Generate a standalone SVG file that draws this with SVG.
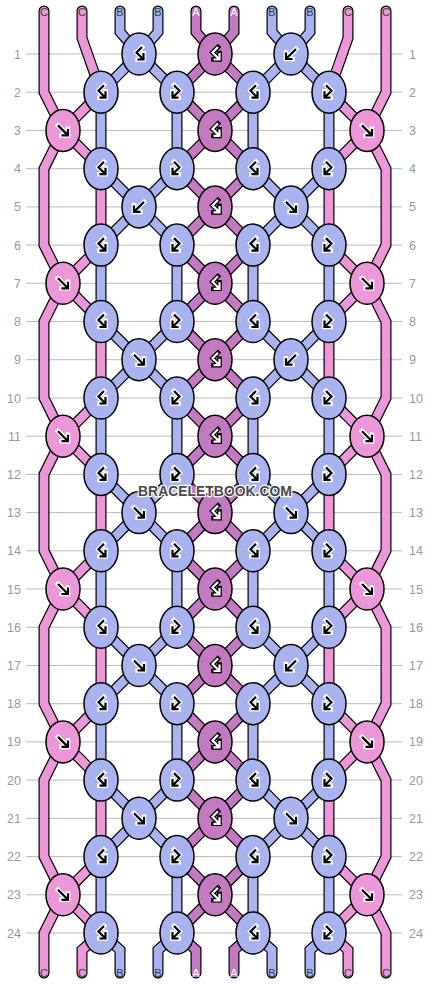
<svg xmlns="http://www.w3.org/2000/svg" width="430" height="984" viewBox="0 0 430 984">
<style>
.gl{stroke:#bbb;stroke-width:1}
.rn{font-family:"Liberation Sans",Arial,sans-serif;font-size:12.5px;fill:#999}
.l{text-anchor:end}
.sl{font-family:"Liberation Sans",Arial,sans-serif;font-size:11px;text-anchor:middle;fill:#3a3a3a}
.w{fill:#fff}
.so{fill:none;stroke:#000;stroke-width:11;stroke-linejoin:miter;stroke-linecap:round}
.sc{fill:none;stroke-width:8.6;stroke-linejoin:miter;stroke-linecap:round}
.pk{stroke:#EC98D8}.bl{stroke:#A9B3EF}.pu{stroke:#C47AC0}
.k ellipse{stroke:#000;stroke-width:1.5}
.kc ellipse{fill:#EC98D8}.kb ellipse{fill:#A9B3EF}.ka ellipse{fill:#C47AC0}
.h{fill:none;stroke:#fff;stroke-width:4.6;stroke-linecap:square}
.i{fill:none;stroke:#000;stroke-width:2.2}
.hd{fill:none;stroke:#000;stroke-width:4.6;stroke-linecap:square}
.id{fill:none;stroke:#fff;stroke-width:2.2}
.wm{font-family:"Liberation Sans",Arial,sans-serif;font-weight:bold;font-size:14px;text-anchor:middle;fill:#4a4a4a;stroke:#fff;stroke-width:2.5;paint-order:stroke;stroke-linejoin:round}
</style>
<defs>
<path id="gF" d="M-5,-5 L4.5,4.5 M5,-1.5 V5 H-1.5"/>
<path id="gB" d="M5,-5 L-4.5,4.5 M-5,-1.5 V5 H1.5"/>
<path id="gBF" d="M3,-7 L-2.5,-1.5 L4,5 M4.5,-1 V5.5 H-1.5"/>
<path id="gFB" d="M-3,-7 L2.5,-1.5 L-4,5 M-4.5,-1 V5.5 H1.5"/>
<path id="s0" d="M44,11 V92.2 L63,130.4 L44,168.7 V245.1 L63,283.3 L44,321.5 V398 L63,436.2 L44,474.4 V550.8 L63,589 L44,627.3 V703.7 L63,741.9 L44,780.1 V856.6 L63,894.8 L44,933 V973"/>
<path id="s1" d="M82,11 V38 L101,92.2 L63,130.4 L101,168.7 V245.1 L63,283.3 L101,321.5 V398 L63,436.2 L101,474.4 V550.8 L63,589 L101,627.3 V703.7 L63,741.9 L101,780.1 V856.6 L63,894.8 L101,933 L82,950 V973"/>
<path id="s9" d="M386,11 V92.2 L367,130.4 L386,168.7 V245.1 L367,283.3 L386,321.5 V398 L367,436.2 L386,474.4 V550.8 L367,589 L386,627.3 V703.7 L367,741.9 L386,780.1 V856.6 L367,894.8 L386,933 V973"/>
<path id="s8" d="M348,11 V38 L329,92.2 L367,130.4 L329,168.7 V245.1 L367,283.3 L329,321.5 V398 L367,436.2 L329,474.4 V550.8 L367,589 L329,627.3 V703.7 L367,741.9 L329,780.1 V856.6 L367,894.8 L329,933 L348,950 V973"/>
<path id="s2" d="M120,11 V32 L139,54 L101,92.2 V168.7 L139,206.9 L101,245.1 V321.5 L139,359.7 L101,398 V474.4 L139,512.6 L101,550.8 V627.3 L139,665.5 L101,703.7 V780.1 L139,818.3 L101,856.6 V933 L120,950 V973"/>
<path id="s3" d="M158,11 V32 L139,54 L177,92.2 V168.7 L139,206.9 L177,245.1 V321.5 L139,359.7 L177,398 V474.4 L139,512.6 L177,550.8 V627.3 L139,665.5 L177,703.7 V780.1 L139,818.3 L177,856.6 V933 L158,950 V973"/>
<path id="s7" d="M310,11 V32 L291,54 L329,92.2 V168.7 L291,206.9 L329,245.1 V321.5 L291,359.7 L329,398 V474.4 L291,512.6 L329,550.8 V627.3 L291,665.5 L329,703.7 V780.1 L291,818.3 L329,856.6 V933 L310,950 V973"/>
<path id="s6" d="M272,11 V32 L291,54 L253,92.2 V168.7 L291,206.9 L253,245.1 V321.5 L291,359.7 L253,398 V474.4 L291,512.6 L253,550.8 V627.3 L291,665.5 L253,703.7 V780.1 L291,818.3 L253,856.6 V933 L272,950 V973"/>
<path id="s4" d="M196,11 V32 L215,54 L177,92.2 L215,130.4 L177,168.7 L215,206.9 L177,245.1 L215,283.3 L177,321.5 L215,359.7 L177,398 L215,436.2 L177,474.4 L215,512.6 L177,550.8 L215,589 L177,627.3 L215,665.5 L177,703.7 L215,741.9 L177,780.1 L215,818.3 L177,856.6 L215,894.8 L177,933 L196,950 V973"/>
<path id="s5" d="M234,11 V32 L215,54 L253,92.2 L215,130.4 L253,168.7 L215,206.9 L253,245.1 L215,283.3 L253,321.5 L215,359.7 L253,398 L215,436.2 L253,474.4 L215,512.6 L253,550.8 L215,589 L253,627.3 L215,665.5 L253,703.7 L215,741.9 L253,780.1 L215,818.3 L253,856.6 L215,894.8 L253,933 L234,950 V973"/>
</defs>
<rect width="430" height="984" fill="#fff"/>
<g id="grid">
<line class="gl" x1="26" y1="54" x2="402" y2="54"/>
<line class="gl" x1="26" y1="92.2" x2="402" y2="92.2"/>
<line class="gl" x1="26" y1="130.4" x2="402" y2="130.4"/>
<line class="gl" x1="26" y1="168.7" x2="402" y2="168.7"/>
<line class="gl" x1="26" y1="206.9" x2="402" y2="206.9"/>
<line class="gl" x1="26" y1="245.1" x2="402" y2="245.1"/>
<line class="gl" x1="26" y1="283.3" x2="402" y2="283.3"/>
<line class="gl" x1="26" y1="321.5" x2="402" y2="321.5"/>
<line class="gl" x1="26" y1="359.7" x2="402" y2="359.7"/>
<line class="gl" x1="26" y1="398" x2="402" y2="398"/>
<line class="gl" x1="26" y1="436.2" x2="402" y2="436.2"/>
<line class="gl" x1="26" y1="474.4" x2="402" y2="474.4"/>
<line class="gl" x1="26" y1="512.6" x2="402" y2="512.6"/>
<line class="gl" x1="26" y1="550.8" x2="402" y2="550.8"/>
<line class="gl" x1="26" y1="589" x2="402" y2="589"/>
<line class="gl" x1="26" y1="627.3" x2="402" y2="627.3"/>
<line class="gl" x1="26" y1="665.5" x2="402" y2="665.5"/>
<line class="gl" x1="26" y1="703.7" x2="402" y2="703.7"/>
<line class="gl" x1="26" y1="741.9" x2="402" y2="741.9"/>
<line class="gl" x1="26" y1="780.1" x2="402" y2="780.1"/>
<line class="gl" x1="26" y1="818.3" x2="402" y2="818.3"/>
<line class="gl" x1="26" y1="856.6" x2="402" y2="856.6"/>
<line class="gl" x1="26" y1="894.8" x2="402" y2="894.8"/>
<line class="gl" x1="26" y1="933" x2="402" y2="933"/>
</g>
<g id="row-labels">
<text class="rn l" x="21" y="58.5">1</text><text class="rn" x="409" y="58.5">1</text>
<text class="rn l" x="21" y="96.7">2</text><text class="rn" x="409" y="96.7">2</text>
<text class="rn l" x="21" y="134.9">3</text><text class="rn" x="409" y="134.9">3</text>
<text class="rn l" x="21" y="173.2">4</text><text class="rn" x="409" y="173.2">4</text>
<text class="rn l" x="21" y="211.4">5</text><text class="rn" x="409" y="211.4">5</text>
<text class="rn l" x="21" y="249.6">6</text><text class="rn" x="409" y="249.6">6</text>
<text class="rn l" x="21" y="287.8">7</text><text class="rn" x="409" y="287.8">7</text>
<text class="rn l" x="21" y="326">8</text><text class="rn" x="409" y="326">8</text>
<text class="rn l" x="21" y="364.2">9</text><text class="rn" x="409" y="364.2">9</text>
<text class="rn l" x="21" y="402.5">10</text><text class="rn" x="409" y="402.5">10</text>
<text class="rn l" x="21" y="440.7">11</text><text class="rn" x="409" y="440.7">11</text>
<text class="rn l" x="21" y="478.9">12</text><text class="rn" x="409" y="478.9">12</text>
<text class="rn l" x="21" y="517.1">13</text><text class="rn" x="409" y="517.1">13</text>
<text class="rn l" x="21" y="555.3">14</text><text class="rn" x="409" y="555.3">14</text>
<text class="rn l" x="21" y="593.5">15</text><text class="rn" x="409" y="593.5">15</text>
<text class="rn l" x="21" y="631.8">16</text><text class="rn" x="409" y="631.8">16</text>
<text class="rn l" x="21" y="670">17</text><text class="rn" x="409" y="670">17</text>
<text class="rn l" x="21" y="708.2">18</text><text class="rn" x="409" y="708.2">18</text>
<text class="rn l" x="21" y="746.4">19</text><text class="rn" x="409" y="746.4">19</text>
<text class="rn l" x="21" y="784.6">20</text><text class="rn" x="409" y="784.6">20</text>
<text class="rn l" x="21" y="822.8">21</text><text class="rn" x="409" y="822.8">21</text>
<text class="rn l" x="21" y="861.1">22</text><text class="rn" x="409" y="861.1">22</text>
<text class="rn l" x="21" y="899.3">23</text><text class="rn" x="409" y="899.3">23</text>
<text class="rn l" x="21" y="937.5">24</text><text class="rn" x="409" y="937.5">24</text>
</g>
<g id="connectors">
<use href="#s0" class="so"/><use href="#s1" class="so"/><use href="#s2" class="so"/><use href="#s3" class="so"/><use href="#s4" class="so"/>
<use href="#s5" class="so"/><use href="#s6" class="so"/><use href="#s7" class="so"/><use href="#s8" class="so"/><use href="#s9" class="so"/>
<use href="#s0" class="sc pk"/><use href="#s1" class="sc pk"/><use href="#s8" class="sc pk"/><use href="#s9" class="sc pk"/>
<use href="#s2" class="sc bl"/><use href="#s3" class="sc bl"/><use href="#s6" class="sc bl"/><use href="#s7" class="sc bl"/>
<use href="#s4" class="sc pu"/><use href="#s5" class="sc pu"/>
</g>
<g id="string-labels">
<text class="sl" x="44" y="16">C</text><text class="sl" x="82" y="16">C</text><text class="sl" x="120" y="16">B</text><text class="sl" x="158" y="16">B</text><text class="sl w" x="196" y="16">A</text><text class="sl w" x="234" y="16">A</text><text class="sl" x="272" y="16">B</text><text class="sl" x="310" y="16">B</text><text class="sl" x="348" y="16">C</text><text class="sl" x="386" y="16">C</text>
<text class="sl" x="44" y="977">C</text><text class="sl" x="82" y="977">C</text><text class="sl" x="120" y="977">B</text><text class="sl" x="158" y="977">B</text><text class="sl w" x="196" y="977">A</text><text class="sl w" x="234" y="977">A</text><text class="sl" x="272" y="977">B</text><text class="sl" x="310" y="977">B</text><text class="sl" x="348" y="977">C</text><text class="sl" x="386" y="977">C</text>
</g>
<g id="knots">
<g id="k01-139" class="k kb" transform="translate(139,54)"><ellipse rx="17" ry="21"/><use href="#gBF" class="h"/><use href="#gBF" class="i"/></g>
<g id="k01-215" class="k ka" transform="translate(215,54)"><ellipse rx="17" ry="21"/><use href="#gBF" class="hd"/><use href="#gBF" class="id"/></g>
<g id="k01-291" class="k kb" transform="translate(291,54)"><ellipse rx="17" ry="21"/><use href="#gB" class="h"/><use href="#gB" class="i"/></g>

<g id="k02-101" class="k kb" transform="translate(101,92.2)"><ellipse rx="17" ry="21"/><use href="#gBF" class="h"/><use href="#gBF" class="i"/></g>
<g id="k02-177" class="k kb" transform="translate(177,92.2)"><ellipse rx="17" ry="21"/><use href="#gFB" class="h"/><use href="#gFB" class="i"/></g>
<g id="k02-253" class="k kb" transform="translate(253,92.2)"><ellipse rx="17" ry="21"/><use href="#gBF" class="h"/><use href="#gBF" class="i"/></g>
<g id="k02-329" class="k kb" transform="translate(329,92.2)"><ellipse rx="17" ry="21"/><use href="#gFB" class="h"/><use href="#gFB" class="i"/></g>

<g id="k03-63" class="k kc" transform="translate(63,130.4)"><ellipse rx="17" ry="21"/><use href="#gF" class="h"/><use href="#gF" class="i"/></g>
<g id="k03-215" class="k ka" transform="translate(215,130.4)"><ellipse rx="17" ry="21"/><use href="#gBF" class="hd"/><use href="#gBF" class="id"/></g>
<g id="k03-367" class="k kc" transform="translate(367,130.4)"><ellipse rx="17" ry="21"/><use href="#gF" class="h"/><use href="#gF" class="i"/></g>

<g id="k04-101" class="k kb" transform="translate(101,168.7)"><ellipse rx="17" ry="21"/><use href="#gBF" class="h"/><use href="#gBF" class="i"/></g>
<g id="k04-177" class="k kb" transform="translate(177,168.7)"><ellipse rx="17" ry="21"/><use href="#gFB" class="h"/><use href="#gFB" class="i"/></g>
<g id="k04-253" class="k kb" transform="translate(253,168.7)"><ellipse rx="17" ry="21"/><use href="#gBF" class="h"/><use href="#gBF" class="i"/></g>
<g id="k04-329" class="k kb" transform="translate(329,168.7)"><ellipse rx="17" ry="21"/><use href="#gFB" class="h"/><use href="#gFB" class="i"/></g>

<g id="k05-139" class="k kb" transform="translate(139,206.9)"><ellipse rx="17" ry="21"/><use href="#gB" class="h"/><use href="#gB" class="i"/></g>
<g id="k05-215" class="k ka" transform="translate(215,206.9)"><ellipse rx="17" ry="21"/><use href="#gBF" class="hd"/><use href="#gBF" class="id"/></g>
<g id="k05-291" class="k kb" transform="translate(291,206.9)"><ellipse rx="17" ry="21"/><use href="#gF" class="h"/><use href="#gF" class="i"/></g>

<g id="k06-101" class="k kb" transform="translate(101,245.1)"><ellipse rx="17" ry="21"/><use href="#gBF" class="h"/><use href="#gBF" class="i"/></g>
<g id="k06-177" class="k kb" transform="translate(177,245.1)"><ellipse rx="17" ry="21"/><use href="#gFB" class="h"/><use href="#gFB" class="i"/></g>
<g id="k06-253" class="k kb" transform="translate(253,245.1)"><ellipse rx="17" ry="21"/><use href="#gBF" class="h"/><use href="#gBF" class="i"/></g>
<g id="k06-329" class="k kb" transform="translate(329,245.1)"><ellipse rx="17" ry="21"/><use href="#gFB" class="h"/><use href="#gFB" class="i"/></g>

<g id="k07-63" class="k kc" transform="translate(63,283.3)"><ellipse rx="17" ry="21"/><use href="#gF" class="h"/><use href="#gF" class="i"/></g>
<g id="k07-215" class="k ka" transform="translate(215,283.3)"><ellipse rx="17" ry="21"/><use href="#gBF" class="hd"/><use href="#gBF" class="id"/></g>
<g id="k07-367" class="k kc" transform="translate(367,283.3)"><ellipse rx="17" ry="21"/><use href="#gF" class="h"/><use href="#gF" class="i"/></g>

<g id="k08-101" class="k kb" transform="translate(101,321.5)"><ellipse rx="17" ry="21"/><use href="#gBF" class="h"/><use href="#gBF" class="i"/></g>
<g id="k08-177" class="k kb" transform="translate(177,321.5)"><ellipse rx="17" ry="21"/><use href="#gFB" class="h"/><use href="#gFB" class="i"/></g>
<g id="k08-253" class="k kb" transform="translate(253,321.5)"><ellipse rx="17" ry="21"/><use href="#gBF" class="h"/><use href="#gBF" class="i"/></g>
<g id="k08-329" class="k kb" transform="translate(329,321.5)"><ellipse rx="17" ry="21"/><use href="#gFB" class="h"/><use href="#gFB" class="i"/></g>

<g id="k09-139" class="k kb" transform="translate(139,359.7)"><ellipse rx="17" ry="21"/><use href="#gF" class="h"/><use href="#gF" class="i"/></g>
<g id="k09-215" class="k ka" transform="translate(215,359.7)"><ellipse rx="17" ry="21"/><use href="#gBF" class="hd"/><use href="#gBF" class="id"/></g>
<g id="k09-291" class="k kb" transform="translate(291,359.7)"><ellipse rx="17" ry="21"/><use href="#gB" class="h"/><use href="#gB" class="i"/></g>

<g id="k10-101" class="k kb" transform="translate(101,398)"><ellipse rx="17" ry="21"/><use href="#gBF" class="h"/><use href="#gBF" class="i"/></g>
<g id="k10-177" class="k kb" transform="translate(177,398)"><ellipse rx="17" ry="21"/><use href="#gFB" class="h"/><use href="#gFB" class="i"/></g>
<g id="k10-253" class="k kb" transform="translate(253,398)"><ellipse rx="17" ry="21"/><use href="#gBF" class="h"/><use href="#gBF" class="i"/></g>
<g id="k10-329" class="k kb" transform="translate(329,398)"><ellipse rx="17" ry="21"/><use href="#gFB" class="h"/><use href="#gFB" class="i"/></g>

<g id="k11-63" class="k kc" transform="translate(63,436.2)"><ellipse rx="17" ry="21"/><use href="#gF" class="h"/><use href="#gF" class="i"/></g>
<g id="k11-215" class="k ka" transform="translate(215,436.2)"><ellipse rx="17" ry="21"/><use href="#gBF" class="hd"/><use href="#gBF" class="id"/></g>
<g id="k11-367" class="k kc" transform="translate(367,436.2)"><ellipse rx="17" ry="21"/><use href="#gF" class="h"/><use href="#gF" class="i"/></g>

<g id="k12-101" class="k kb" transform="translate(101,474.4)"><ellipse rx="17" ry="21"/><use href="#gBF" class="h"/><use href="#gBF" class="i"/></g>
<g id="k12-177" class="k kb" transform="translate(177,474.4)"><ellipse rx="17" ry="21"/><use href="#gFB" class="h"/><use href="#gFB" class="i"/></g>
<g id="k12-253" class="k kb" transform="translate(253,474.4)"><ellipse rx="17" ry="21"/><use href="#gBF" class="h"/><use href="#gBF" class="i"/></g>
<g id="k12-329" class="k kb" transform="translate(329,474.4)"><ellipse rx="17" ry="21"/><use href="#gFB" class="h"/><use href="#gFB" class="i"/></g>

<g id="k13-139" class="k kb" transform="translate(139,512.6)"><ellipse rx="17" ry="21"/><use href="#gF" class="h"/><use href="#gF" class="i"/></g>
<g id="k13-215" class="k ka" transform="translate(215,512.6)"><ellipse rx="17" ry="21"/><use href="#gBF" class="hd"/><use href="#gBF" class="id"/></g>
<g id="k13-291" class="k kb" transform="translate(291,512.6)"><ellipse rx="17" ry="21"/><use href="#gF" class="h"/><use href="#gF" class="i"/></g>

<g id="k14-101" class="k kb" transform="translate(101,550.8)"><ellipse rx="17" ry="21"/><use href="#gBF" class="h"/><use href="#gBF" class="i"/></g>
<g id="k14-177" class="k kb" transform="translate(177,550.8)"><ellipse rx="17" ry="21"/><use href="#gFB" class="h"/><use href="#gFB" class="i"/></g>
<g id="k14-253" class="k kb" transform="translate(253,550.8)"><ellipse rx="17" ry="21"/><use href="#gBF" class="h"/><use href="#gBF" class="i"/></g>
<g id="k14-329" class="k kb" transform="translate(329,550.8)"><ellipse rx="17" ry="21"/><use href="#gFB" class="h"/><use href="#gFB" class="i"/></g>

<g id="k15-63" class="k kc" transform="translate(63,589)"><ellipse rx="17" ry="21"/><use href="#gF" class="h"/><use href="#gF" class="i"/></g>
<g id="k15-215" class="k ka" transform="translate(215,589)"><ellipse rx="17" ry="21"/><use href="#gBF" class="hd"/><use href="#gBF" class="id"/></g>
<g id="k15-367" class="k kc" transform="translate(367,589)"><ellipse rx="17" ry="21"/><use href="#gF" class="h"/><use href="#gF" class="i"/></g>

<g id="k16-101" class="k kb" transform="translate(101,627.3)"><ellipse rx="17" ry="21"/><use href="#gBF" class="h"/><use href="#gBF" class="i"/></g>
<g id="k16-177" class="k kb" transform="translate(177,627.3)"><ellipse rx="17" ry="21"/><use href="#gFB" class="h"/><use href="#gFB" class="i"/></g>
<g id="k16-253" class="k kb" transform="translate(253,627.3)"><ellipse rx="17" ry="21"/><use href="#gBF" class="h"/><use href="#gBF" class="i"/></g>
<g id="k16-329" class="k kb" transform="translate(329,627.3)"><ellipse rx="17" ry="21"/><use href="#gFB" class="h"/><use href="#gFB" class="i"/></g>

<g id="k17-139" class="k kb" transform="translate(139,665.5)"><ellipse rx="17" ry="21"/><use href="#gF" class="h"/><use href="#gF" class="i"/></g>
<g id="k17-215" class="k ka" transform="translate(215,665.5)"><ellipse rx="17" ry="21"/><use href="#gBF" class="hd"/><use href="#gBF" class="id"/></g>
<g id="k17-291" class="k kb" transform="translate(291,665.5)"><ellipse rx="17" ry="21"/><use href="#gB" class="h"/><use href="#gB" class="i"/></g>

<g id="k18-101" class="k kb" transform="translate(101,703.7)"><ellipse rx="17" ry="21"/><use href="#gBF" class="h"/><use href="#gBF" class="i"/></g>
<g id="k18-177" class="k kb" transform="translate(177,703.7)"><ellipse rx="17" ry="21"/><use href="#gFB" class="h"/><use href="#gFB" class="i"/></g>
<g id="k18-253" class="k kb" transform="translate(253,703.7)"><ellipse rx="17" ry="21"/><use href="#gBF" class="h"/><use href="#gBF" class="i"/></g>
<g id="k18-329" class="k kb" transform="translate(329,703.7)"><ellipse rx="17" ry="21"/><use href="#gFB" class="h"/><use href="#gFB" class="i"/></g>

<g id="k19-63" class="k kc" transform="translate(63,741.9)"><ellipse rx="17" ry="21"/><use href="#gF" class="h"/><use href="#gF" class="i"/></g>
<g id="k19-215" class="k ka" transform="translate(215,741.9)"><ellipse rx="17" ry="21"/><use href="#gBF" class="hd"/><use href="#gBF" class="id"/></g>
<g id="k19-367" class="k kc" transform="translate(367,741.9)"><ellipse rx="17" ry="21"/><use href="#gF" class="h"/><use href="#gF" class="i"/></g>

<g id="k20-101" class="k kb" transform="translate(101,780.1)"><ellipse rx="17" ry="21"/><use href="#gBF" class="h"/><use href="#gBF" class="i"/></g>
<g id="k20-177" class="k kb" transform="translate(177,780.1)"><ellipse rx="17" ry="21"/><use href="#gFB" class="h"/><use href="#gFB" class="i"/></g>
<g id="k20-253" class="k kb" transform="translate(253,780.1)"><ellipse rx="17" ry="21"/><use href="#gBF" class="h"/><use href="#gBF" class="i"/></g>
<g id="k20-329" class="k kb" transform="translate(329,780.1)"><ellipse rx="17" ry="21"/><use href="#gFB" class="h"/><use href="#gFB" class="i"/></g>

<g id="k21-139" class="k kb" transform="translate(139,818.3)"><ellipse rx="17" ry="21"/><use href="#gF" class="h"/><use href="#gF" class="i"/></g>
<g id="k21-215" class="k ka" transform="translate(215,818.3)"><ellipse rx="17" ry="21"/><use href="#gBF" class="hd"/><use href="#gBF" class="id"/></g>
<g id="k21-291" class="k kb" transform="translate(291,818.3)"><ellipse rx="17" ry="21"/><use href="#gF" class="h"/><use href="#gF" class="i"/></g>

<g id="k22-101" class="k kb" transform="translate(101,856.6)"><ellipse rx="17" ry="21"/><use href="#gBF" class="h"/><use href="#gBF" class="i"/></g>
<g id="k22-177" class="k kb" transform="translate(177,856.6)"><ellipse rx="17" ry="21"/><use href="#gFB" class="h"/><use href="#gFB" class="i"/></g>
<g id="k22-253" class="k kb" transform="translate(253,856.6)"><ellipse rx="17" ry="21"/><use href="#gBF" class="h"/><use href="#gBF" class="i"/></g>
<g id="k22-329" class="k kb" transform="translate(329,856.6)"><ellipse rx="17" ry="21"/><use href="#gFB" class="h"/><use href="#gFB" class="i"/></g>

<g id="k23-63" class="k kc" transform="translate(63,894.8)"><ellipse rx="17" ry="21"/><use href="#gF" class="h"/><use href="#gF" class="i"/></g>
<g id="k23-215" class="k ka" transform="translate(215,894.8)"><ellipse rx="17" ry="21"/><use href="#gBF" class="hd"/><use href="#gBF" class="id"/></g>
<g id="k23-367" class="k kc" transform="translate(367,894.8)"><ellipse rx="17" ry="21"/><use href="#gF" class="h"/><use href="#gF" class="i"/></g>

<g id="k24-101" class="k kb" transform="translate(101,933)"><ellipse rx="17" ry="21"/><use href="#gBF" class="h"/><use href="#gBF" class="i"/></g>
<g id="k24-177" class="k kb" transform="translate(177,933)"><ellipse rx="17" ry="21"/><use href="#gFB" class="h"/><use href="#gFB" class="i"/></g>
<g id="k24-253" class="k kb" transform="translate(253,933)"><ellipse rx="17" ry="21"/><use href="#gBF" class="h"/><use href="#gBF" class="i"/></g>
<g id="k24-329" class="k kb" transform="translate(329,933)"><ellipse rx="17" ry="21"/><use href="#gFB" class="h"/><use href="#gFB" class="i"/></g>
</g>
<text class="wm" x="215" y="496" textLength="154">BRACELETBOOK.COM</text>
</svg>
